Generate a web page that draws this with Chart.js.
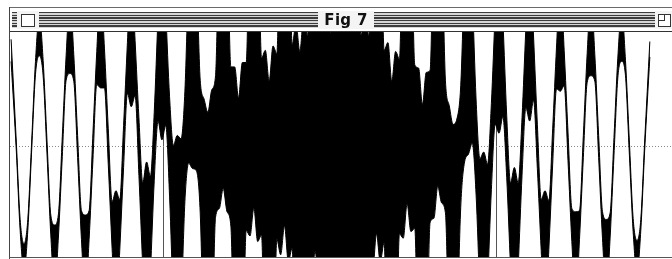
<!DOCTYPE html>
<html>
<head>
<meta charset="utf-8">
<script src="https://cdn.jsdelivr.net/npm/chart.js@4.4.1/dist/chart.umd.min.js"></script>
<style>
  html,body{margin:0;padding:0;background:#fff;}
  #wrap{position:relative;width:672px;height:259px;overflow:hidden;background:#fff;}
  #c{position:absolute;left:0;top:0;}
  .abs{position:absolute;}
  #topline{left:9px;top:7px;width:663px;height:1px;background:#6a6a6a;}
  #leftline{left:9px;top:7px;width:1px;height:252px;background:#444;}
  #stripes{left:12px;top:12px;width:645px;height:16px;
    background:repeating-linear-gradient(to bottom,#3c3c3c 0,#3c3c3c 1.4px,#d6d6d6 1.4px,#d6d6d6 2.67px);}
  #barline{left:9px;top:31px;width:663px;height:1px;background:#333;}
  #bottomline{left:9px;top:257px;width:663px;height:1px;background:#555;}
  .gap{background:#f4f4f4;top:11px;height:18px;}
  #closebox{left:21px;top:14px;width:12px;height:11px;border:1.5px solid #333;background:#fff;}
  #zoombox{left:658px;top:14px;width:11px;height:11px;border:1.5px solid #333;background:#fff;}
  #zoominner{left:658px;top:14px;width:6px;height:6px;border-right:1.5px solid #333;border-bottom:1.5px solid #333;}
  #title{left:318px;top:10px;width:56px;height:20px;font-family:"DejaVu Sans",sans-serif;font-weight:bold;
    font-size:15px;line-height:20px;text-align:center;color:#111;letter-spacing:0.3px;}
</style>
</head>
<body>
<div id="wrap">
  <canvas id="c" width="672" height="259"></canvas>
  <div class="abs" id="topline"></div>
  <div class="abs" id="stripes"></div>
  <div class="abs gap" style="left:17px;width:22px;"></div>
  <div class="abs gap" style="left:318px;width:56px;"></div>
  <div class="abs gap" style="left:655px;width:17px;"></div>
  <div class="abs" id="closebox"></div>
  <div class="abs" id="zoombox"></div>
  <div class="abs" id="zoominner"></div>
  <div class="abs" id="title">Fig 7</div>
  <div class="abs" id="barline"></div>
  <div class="abs" id="leftline"></div>
  <div class="abs" id="bottomline"></div>
</div>
<script>
// Positions along the trace, in cycles of the slow wave (its peaks sit on whole numbers)
const phase = [
  -0.92,
  -0.75, -0.625, -0.5, -0.375, -0.25, -0.125, 0, 0.125,
  0.25, 0.375, 0.5, 0.625, 0.75, 0.875, 1, 1.125,
  1.25, 1.375, 1.5, 1.625, 1.75, 1.875, 2, 2.125,
  2.25, 2.375, 2.5, 2.625, 2.75, 2.875, 3, 3.125,
  3.25, 3.375, 3.5, 3.625, 3.75, 3.875, 4, 4.125,
  4.25, 4.375, 4.5, 4.625, 4.75, 4.875, 5, 5.125,
  5.25, 5.375, 5.5, 5.625, 5.75, 5.875, 6, 6.125,
  6.25, 6.375, 6.5, 6.625, 6.75, 6.875, 7, 7.125,
  7.25, 7.375, 7.5, 7.625, 7.75, 7.875, 8, 8.125,
  8.25, 8.375, 8.5, 8.625, 8.75, 8.875, 9, 9.125,
  9.25, 9.375, 9.5, 9.625, 9.75, 9.875, 10, 10.125,
  10.25, 10.375, 10.5, 10.625, 10.75, 10.875, 11, 11.125,
  11.25, 11.375, 11.5, 11.625, 11.75, 11.875, 12, 12.125,
  12.25, 12.375, 12.5, 12.625, 12.75, 12.875, 13, 13.125,
  13.25, 13.375, 13.5, 13.625, 13.75, 13.875, 14, 14.125,
  14.25, 14.375, 14.5, 14.625, 14.75, 14.875, 15, 15.125,
  15.25, 15.375, 15.5, 15.625, 15.75, 15.875, 16, 16.125,
  16.25, 16.375, 16.5, 16.625, 16.75, 16.875, 17, 17.125,
  17.25, 17.375, 17.5, 17.625, 17.75, 17.875, 18, 18.125,
  18.25, 18.375, 18.5, 18.625, 18.75, 18.875, 19, 19.125,
  19.25, 19.375, 19.5, 19.625, 19.75,
  19.92
];
// Slow wave (centre line of the trace) read at those positions
const carrier = [
  0.87,
  0, -0.71, -1, -0.71, 0, 0.71, 1, 0.71,
  0, -0.71, -1, -0.71, 0, 0.71, 1, 0.71,
  0, -0.71, -1, -0.71, 0, 0.71, 1, 0.71,
  0, -0.71, -1, -0.71, 0, 0.71, 1, 0.71,
  0, -0.71, -1, -0.71, 0, 0.71, 1, 0.71,
  0, -0.71, -1, -0.71, 0, 0.71, 1, 0.71,
  0, -0.71, -1, -0.71, 0, 0.71, 1, 0.71,
  0, -0.71, -1, -0.71, 0, 0.71, 1, 0.71,
  0, -0.71, -1, -0.71, 0, 0.71, 1, 0.71,
  0, -0.71, -1, -0.71, 0, 0.71, 1, 0.71,
  0, -0.71, -1, -0.71, 0, 0.71, 1, 0.71,
  0, -0.71, -1, -0.71, 0, 0.71, 1, 0.71,
  0, -0.71, -1, -0.71, 0, 0.71, 1, 0.71,
  0, -0.71, -1, -0.71, 0, 0.71, 1, 0.71,
  0, -0.71, -1, -0.71, 0, 0.71, 1, 0.71,
  0, -0.71, -1, -0.71, 0, 0.71, 1, 0.71,
  0, -0.71, -1, -0.71, 0, 0.71, 1, 0.71,
  0, -0.71, -1, -0.71, 0, 0.71, 1, 0.71,
  0, -0.71, -1, -0.71, 0, 0.71, 1, 0.71,
  0, -0.71, -1, -0.71, 0, 0.71, 1, 0.71,
  0, -0.71, -1, -0.71, 0,
  0.88
];
// Half-height of the fast ripple riding on the slow wave at those positions
const ripple = [
  0.10,
  0.04, 0.05, 0.12, 0.05, 0.04, 0.06, 0.18, 0.07,
  0.06, 0.09, 0.29, 0.10, 0.09, 0.11, 0.34, 0.12,
  0.10, 0.13, 0.38, 0.13, 0.12, 0.15, 0.47, 0.18,
  0.16, 0.21, 0.60, 0.23, 0.19, 0.23, 0.64, 0.25,
  0.26, 0.38, 0.86, 0.44, 0.31, 0.48, 0.94, 0.52,
  0.45, 0.72, 1.10, 0.78, 0.50, 0.86, 1.20, 0.93,
  0.60, 1.14, 1.31, 1.22, 0.64, 1.27, 1.38, 1.30,
  0.72, 1.43, 1.44, 1.47, 0.76, 1.52, 1.56, 1.57,
  0.80, 1.58, 1.59, 1.62, 0.84, 1.69, 1.72, 1.75,
  0.92, 1.82, 1.86, 1.88, 1.00, 1.92, 1.95, 1.97,
  1.06, 2.01, 2.03, 2.04, 1.08, 2.05, 2.06, 2.05,
  1.08, 2.03, 2.01, 1.95, 1.00, 1.85, 1.79, 1.75,
  0.87, 1.65, 1.59, 1.57, 0.79, 1.54, 1.52, 1.48,
  0.74, 1.42, 1.38, 1.38, 0.69, 1.36, 1.36, 1.22,
  0.60, 1.08, 1.20, 0.96, 0.55, 0.85, 1.07, 0.68,
  0.43, 0.60, 0.95, 0.55, 0.39, 0.51, 0.88, 0.44,
  0.28, 0.38, 0.81, 0.38, 0.26, 0.36, 0.77, 0.29,
  0.20, 0.23, 0.60, 0.22, 0.16, 0.19, 0.50, 0.16,
  0.13, 0.15, 0.41, 0.13, 0.10, 0.13, 0.36, 0.12,
  0.10, 0.12, 0.34, 0.11, 0.08, 0.09, 0.23, 0.07,
  0.06, 0.06, 0.15, 0.05, 0.04,
  0.07
];
// Cursor markers and the zero line
const markerPositions = [4.04, 14.93];
const zeroLine = [0];

const upperEdge = phase.map((p, i) => ({x: p, y: carrier[i] + ripple[i]}));
const lowerEdge = phase.map((p, i) => ({x: p, y: carrier[i] - ripple[i]}));

new Chart(document.getElementById('c'), {
  type: 'line',
  data: {
    datasets: [
      {data: upperEdge, borderColor: '#000', backgroundColor: '#000', borderWidth: 1, fill: '+1', pointRadius: 0},
      {data: lowerEdge, borderColor: '#000', backgroundColor: '#000', borderWidth: 1, fill: false, pointRadius: 0}
    ]
  },
  options: {
    responsive: false,
    animation: false,
    events: [],
    layout: {padding: {left: 10, right: 0, top: 32, bottom: 1}},
    elements: {line: {cubicInterpolationMode: 'monotone', capBezierPoints: false}},
    plugins: {legend: {display: false}, tooltip: {enabled: false}, title: {display: false}},
    scales: {
      x: {
        type: 'linear', min: -0.956, max: 20.643,
        ticks: {display: false},
        grid: {drawTicks: false, color: '#555', lineWidth: 1},
        border: {display: false},
        afterBuildTicks: s => { s.ticks = markerPositions.map(v => ({value: v})); }
      },
      y: {
        type: 'linear', min: -1.009, max: 1.036,
        ticks: {display: false},
        grid: {drawTicks: false, color: '#888', lineWidth: 1},
        border: {display: false, dash: [1, 2]},
        afterBuildTicks: s => { s.ticks = zeroLine.map(v => ({value: v})); }
      }
    }
  }
});
</script>
</body>
</html>
